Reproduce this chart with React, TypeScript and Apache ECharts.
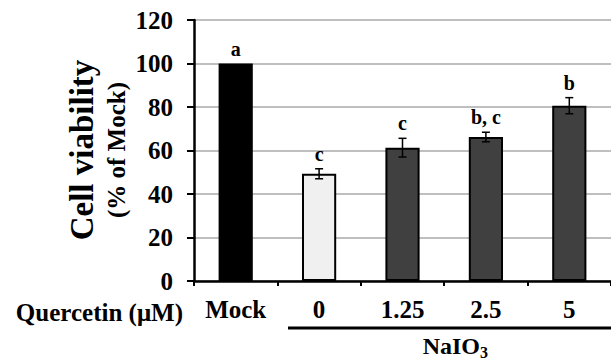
import React, { useEffect, useRef } from "react";
import * as echarts from "echarts";

const categories = ["Mock", "0", "1.25", "2.5", "5"];
const values = [100, 49.3, 61.3, 66.2, 80.6];
const errors = [0, 2.3, 4.3, 2.2, 3.7];
const letters = ["a", "c", "c", "b, c", "b"];
const barColors = ["#000000", "#f0f0f0", "#404040", "#404040", "#404040"];
const yTicks = { min: 0, max: 120, interval: 20 };

const FONT = "'Liberation Serif'";

function txt(text: string, x: number, y: number, size: number, align: string, rotation = 0) {
  return {
    type: "text",
    x,
    y,
    rotation,
    style: {
      text,
      font: `bold ${size}px ${FONT}`,
      fill: "#000",
      align,
      verticalAlign: "middle",
      textAlign: align,
      textVerticalAlign: "middle",
    },
  };
}

export default function App() {
  const ref = useRef<HTMLDivElement>(null);
  useEffect(() => {
    if (!ref.current) return;
    const chart = echarts.init(ref.current, undefined, { renderer: "svg" });
    const option: any = {
      animation: false,
      textStyle: { fontFamily: FONT },
      grid: { left: 194, right: -7, top: 20, bottom: 82 },
      xAxis: {
        type: "category",
        data: categories,
        axisLine: { show: true, lineStyle: { color: "#000", width: 2.5 } },
        axisTick: { show: true, length: 5, lineStyle: { color: "#000", width: 2 } },
        axisLabel: {
          color: "#000",
          fontFamily: FONT,
          fontWeight: "bold",
          fontSize: 25,
          margin: 16,
        },
        splitLine: { show: false },
      },
      yAxis: {
        type: "value",
        min: yTicks.min,
        max: yTicks.max,
        interval: yTicks.interval,
        axisLine: { show: true, lineStyle: { color: "#000", width: 2.5 } },
        axisTick: { show: true, length: 7, lineStyle: { color: "#000", width: 2 } },
        axisLabel: {
          color: "#000",
          fontFamily: FONT,
          fontWeight: "bold",
          fontSize: 25,
          margin: 21,
        },
        splitLine: { show: true, lineStyle: { color: "#aaaaaa", width: 1.5 } },
      },
      series: [
        {
          type: "bar",
          barWidth: "41%",
          data: values.map((v, i) => ({
            value: v,
            itemStyle: { color: barColors[i], borderColor: "#000", borderWidth: 2 },
          })),
          z: 2,
        },
        {
          type: "custom",
          z: 5,
          data: values.map((v, i) => [i, v, errors[i]]),
          renderItem: (params: any, api: any) => {
            const idx = api.value(0);
            const v = api.value(1);
            const e = api.value(2);
            const top = api.coord([idx, v + e]);
            const bot = api.coord([idx, v - e]);
            const hw = 4;
            const children: any[] = [];
            const ls = { stroke: "#000", lineWidth: 1.5 };
            if (e > 0) {
              children.push(
                { type: "line", shape: { x1: top[0], y1: top[1], x2: bot[0], y2: bot[1] }, style: ls },
                { type: "line", shape: { x1: top[0] - hw, y1: top[1], x2: top[0] + hw, y2: top[1] }, style: ls },
                { type: "line", shape: { x1: bot[0] - hw, y1: bot[1], x2: bot[0] + hw, y2: bot[1] }, style: ls }
              );
            }
            children.push({
              type: "text",
              style: {
                text: letters[params.dataIndex],
                x: top[0],
                y: top[1] - 15,
                align: "center",
                verticalAlign: "middle",
                font: `bold 20px ${FONT}`,
                fill: "#000",
              },
            });
            return { type: "group", children };
          },
        },
      ],
      graphic: [
        txt("Cell viability", 82, 150, 33, "center", Math.PI / 2),
        txt("(% of Mock)", 116, 150, 25, "center", Math.PI / 2),
        txt("Quercetin (μM)", 183, 312, 25, "right"),
        {
          type: "line",
          shape: { x1: 288, y1: 328, x2: 611, y2: 328 },
          style: { stroke: "#000", lineWidth: 3 },
        },
        txt("NaIO", 480, 346, 24, "right"),
        txt("3", 480, 352, 16, "left"),
      ],
    };
    chart.setOption(option);
    return () => chart.dispose();
  }, []);
  return (
    <div
      ref={ref}
      style={{ position: "absolute", left: 0, top: 0, width: 611, height: 363 }}
    />
  );
}
